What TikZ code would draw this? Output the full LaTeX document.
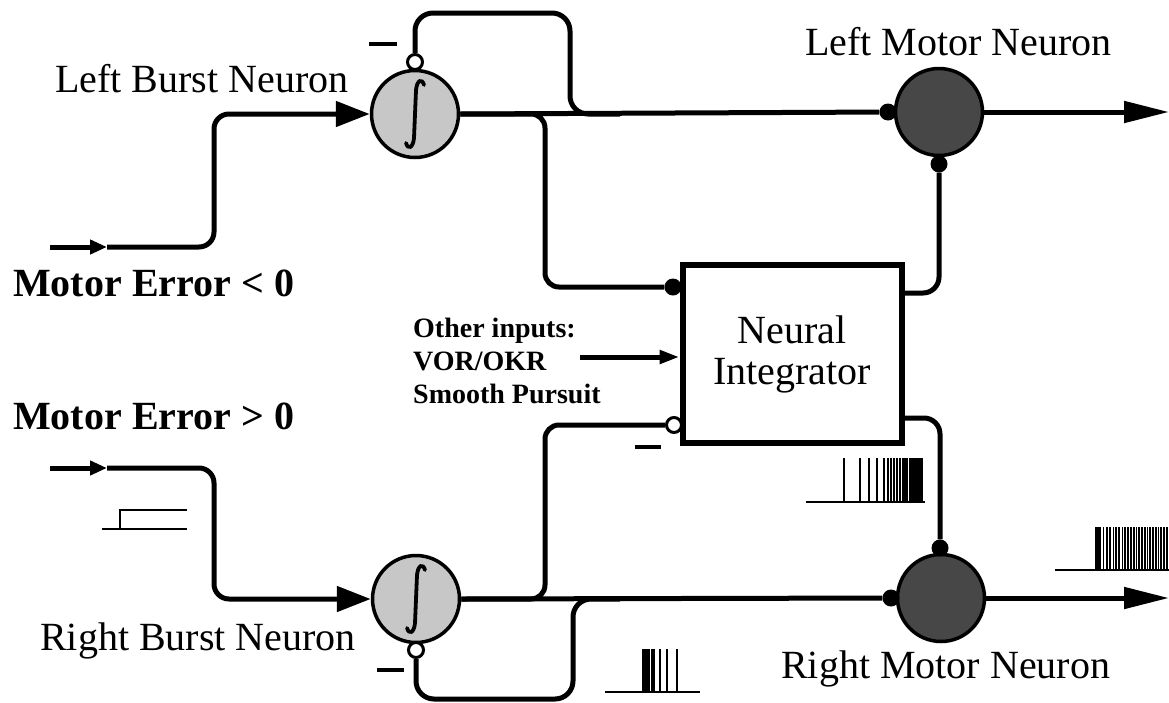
\documentclass[tikz,border=0pt]{standalone}
\usepackage{fontspec}
\setmainfont{Liberation Serif}
\usetikzlibrary{arrows.meta,calc}
\begin{document}
\begin{tikzpicture}[x=1pt,y=-1pt,
  wire/.style={line width=5pt},
  burst/.style={circle,draw,line width=3.5pt,fill=black!22,minimum size=87pt,inner sep=0pt},
  motor/.style={circle,draw,line width=3.5pt,fill=black!72,minimum size=87pt,inner sep=0pt},
  dotn/.style={circle,fill=black,minimum size=17pt,inner sep=0pt},
  odot/.style={circle,draw,line width=3pt,fill=white,minimum size=15pt,inner sep=0pt},
  boxn/.style={draw,line width=6pt,minimum width=219pt,minimum height=178pt,inner sep=0pt,align=center,font=\fontsize{40}{41}\selectfont},
  lab/.style={font=\fontsize{40}{41}\selectfont,inner sep=0pt,anchor=base west},
  blab/.style={font=\fontsize{40}{41}\selectfont\bfseries,inner sep=0pt,anchor=base west},
  slab/.style={font=\fontsize{28}{33}\selectfont\bfseries,inner sep=0pt,anchor=base west},
  bigtip/.style={-{Triangle[length=34pt,width=25pt]}},
  outtip/.style={-{Triangle[length=45pt,width=21pt]}},
  smalltip/.style={-{Triangle[length=17pt,width=14pt]}},
  midtip/.style={-{Triangle[length=20pt,width=13pt]}},
  spike/.style={line width=1.7pt},
  trace/.style={line width=2.2pt},
  integ/.style={line width=3.8pt,line cap=round},
  minusbar/.style={inner sep=0pt},
]
\useasboundingbox (0,0) rectangle (1169,702);

% neurons and integrator
\node[burst] (lb) at (415,114) {};
\node[burst] (rb) at (416,599) {};
\node[motor] (lm) at (939,112) {};
\node[motor] (rm) at (941,598) {};
\node[boxn] (ni) at (792,354) {Neural\\Integrator};

% integral signs
\foreach \n in {lb,rb}{
  \begin{scope}[shift={(\n.center)}]
    \draw[integ] (9,-29) .. controls (7,-36) and (2,-34) .. (1,-24) -- (-1,24) .. controls (-2,34) and (-7,36) .. (-9,29);
  \end{scope}
}

% synapse dots
\node[odot] (lbi) at (415,62) {};
\node[odot] (rbi) at (416,650) {};
\node[dotn] (lmin) at (888,112) {};
\node[dotn] (lmb) at (939,164) {};
\node[dotn] (rmin) at (891,598) {};
\node[dotn] (rmt) at (940,548) {};
\node[dotn] (nidot) at (673,287) {};
\node[odot] (niinh) at (674,425) {};

% inputs
\coordinate (li0) at (50,247);
\coordinate (li1) at (107,247);
\coordinate (ri0) at (50,468);
\coordinate (ri1) at (107,468);
\draw[wire,smalltip] (li0) -- (li1);
\draw[wire,bigtip,rounded corners=15pt] (li1) -- (214,247) |- (lb.west);
\draw[wire,smalltip] (ri0) -- (ri1);
\draw[wire,bigtip,rounded corners=15pt] (ri1) -- (214,468) |- (rb.west);

% self-inhibition loops
\draw[wire,rounded corners=18pt] (lbi.north) |- (570,13) |- (620,114);
\draw[wire,rounded corners=18pt] (rbi.south) |- (573,699) |- (620,599);

% main lines
\draw[wire] (lb.east) -- (lmin);
\draw[wire] (rb.east) -- (rmin);
\coordinate (lout) at (1169,112);
\coordinate (rout) at (1169,598);
\draw[wire,outtip] (lm.east) -- (lout);
\draw[wire,outtip] (rm.east) -- (rout);

% branches to integrator
\draw[wire,rounded corners=14pt] (lb.east) -| (545,287) -- (nidot);
\draw[wire,rounded corners=14pt] (rb.east) -| (545,425) -- (niinh);

% integrator outputs
\draw[wire,rounded corners=16pt] ([yshift=61pt]ni.east) -| (lmb);
\draw[wire,rounded corners=16pt] ([yshift=-64pt]ni.east) -| (rmt);

% other inputs
\coordinate (oi) at (580,357);
\draw[wire,midtip] (oi) -- ([yshift=-3pt]ni.west);
\node[slab] (oi1) at (413,337) {Other inputs:};
\node[slab] (oi2) at (413,370) {VOR/OKR};
\node[slab] (oi3) at (413,403) {Smooth Pursuit};

% labels
\node[lab] (lbl) at (55,92) {Left Burst Neuron};
\node[lab] (rbl) at (40,650) {Right Burst Neuron};
\node[lab] (lml) at (805,55) {Left Motor Neuron};
\node[lab] (rml) at (781,678) {Right Motor Neuron};
\node[blab] (me1) at (13,296) {Motor Error < 0};
\node[blab] (me2) at (13,429) {Motor Error > 0};

% minus signs
\node[minusbar] (m1) at (383,44) {\rule{28pt}{4.5pt}};
\node[minusbar] (m2) at (390,670) {\rule{27pt}{4.5pt}};
\node[minusbar] (m3) at (648,447) {\rule{26pt}{4.5pt}};

% step input
\draw[trace] (102,529) -- (187,529);
\draw[trace] (120,529) -- (120,510) -- (187,510);

% spike train below integrator
\draw[trace] (806,502) -- (925,502);
\foreach \x in {844,860,869,877,884,888,891,894,897,900,903,905,907,910,912,914,916,918,920,922}
  \draw[spike] (\x,502) -- (\x,458);

% spike train right motor output
\draw[trace] (1055,570) -- (1169,570);
\foreach \x in {1096,1098,1100,1103.5,1107,1110,1113.5,1116,1119,1122.5,1125,1128,1131,1134,1136.5,1139,1142,1145,1147.5,1150,1153,1156,1158.5,1161,1164,1167}
  \draw[spike] (\x,570) -- (\x,527);

% spike train burst output
\draw[trace] (605,692) -- (700,692);
\foreach \x in {643,645,647,649,652,654,660,667,677}
  \draw[spike] (\x,692) -- (\x,649);
\end{tikzpicture}
\end{document}
